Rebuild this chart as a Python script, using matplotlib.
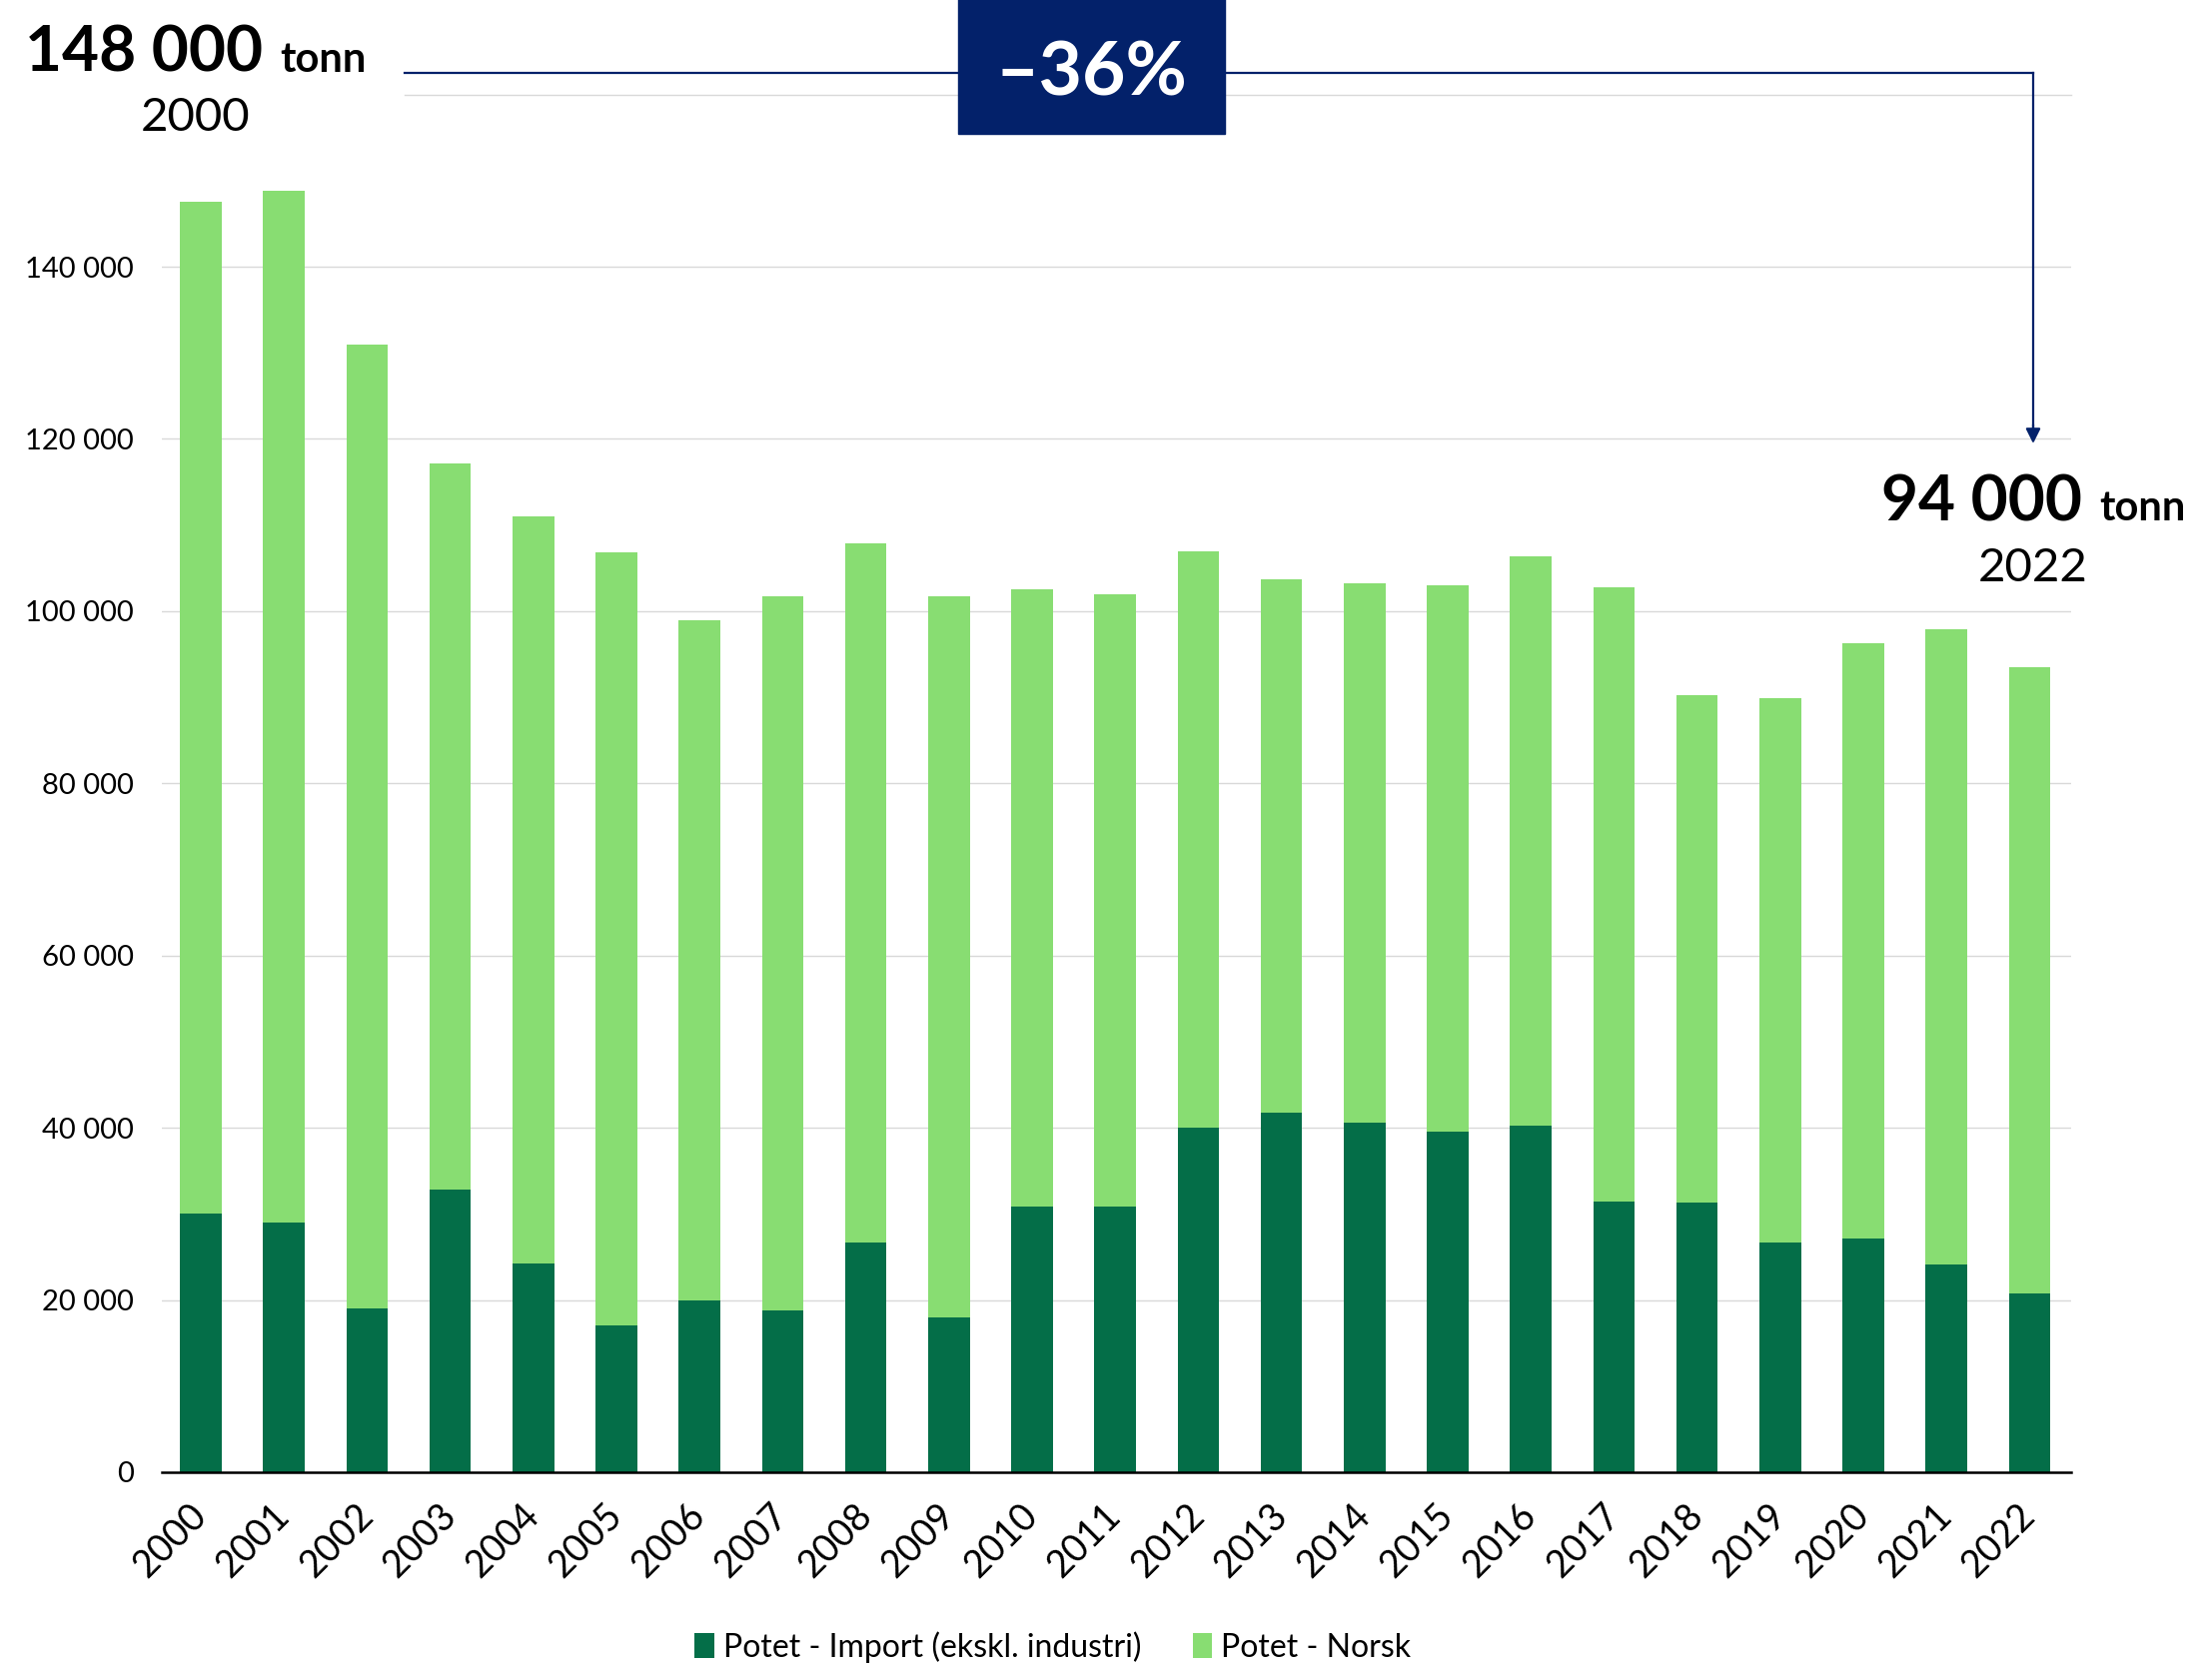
import matplotlib
matplotlib.use('Agg')
import matplotlib.pyplot as plt
from matplotlib.patches import Rectangle
from matplotlib.lines import Line2D
from matplotlib.ticker import FuncFormatter

years = [str(y) for y in range(2000, 2023)]
import_t = [30000, 29000, 19000, 32800, 24200, 17000, 20000, 18800, 26700, 18000,
            30800, 30900, 40000, 41800, 40600, 39500, 40300, 31400, 31300, 26700,
            27200, 24100, 20800]
norsk_t = [117500, 119800, 112000, 84400, 86800, 89800, 78900, 82900, 81200, 83700,
           71700, 71100, 66900, 61900, 62600, 63500, 66100, 71400, 58900, 63200,
           69100, 73800, 72700]
series_names = ["Potet - Import (ekskl. industri)", "Potet - Norsk"]
yticks = list(range(0, 140001, 20000))

DARK = "#046E48"
LIGHT = "#88DD72"
NAVY = "#03216A"

plt.rcParams['font.family'] = ['Lato', 'DejaVu Sans']

W, H = 2214, 1668
fig = plt.figure(figsize=(W / 100, H / 100), dpi=100)
fx = lambda x: x / W
fy = lambda y: 1 - y / H

ax = fig.add_axes([fx(162), fy(1474), fx(2073) - fx(162), fy(94.6) - fy(1474)])
x = list(range(len(years)))
ax.bar(x, import_t, width=0.5, color=DARK, label=series_names[0], zorder=3)
ax.bar(x, norsk_t, width=0.5, bottom=import_t, color=LIGHT, label=series_names[1], zorder=3)

ax.set_xlim(-0.47, 22.5)
ax.set_ylim(0, 160000)
ax.set_yticks(yticks)
ax.yaxis.set_major_formatter(FuncFormatter(lambda v, p: f"{int(v):,}".replace(",", " ")))
for v in yticks[1:]:
    ax.axhline(v, color="#D9D9D9", lw=1.0, zorder=1)
ax.axhline(160000, xmin=0.127, color="#D9D9D9", lw=1.0, zorder=1, clip_on=False)

for s in ['top', 'right', 'left']:
    ax.spines[s].set_visible(False)
ax.spines['bottom'].set_linewidth(1.8)
ax.spines['bottom'].set_zorder(4)
ax.tick_params(axis='y', length=0, pad=20, labelsize=21)
ax.tick_params(axis='x', length=0, pad=27)
ax.set_xticks(x)
ax.set_xticklabels(years, rotation=45, ha='right', va='center', rotation_mode='anchor', fontsize=27)

# Legend
leg = fig.legend(loc='center', bbox_to_anchor=(fx(1054), fy(1649)), ncol=2, frameon=False,
                 fontsize=23, handlelength=0.6, handleheight=0.8, handletextpad=0.3,
                 columnspacing=1.6)

# Annotations
fig.text(fx(263), fy(72), "148 000", ha='right', va='baseline', fontsize=46, fontweight='bold')
fig.text(fx(280), fy(72), "tonn", ha='left', va='baseline', fontsize=30, fontweight='bold')
fig.text(fx(196), fy(131), "2000", ha='center', va='baseline', fontsize=34)

fig.text(fx(2084), fy(521), "94 000", ha='right', va='baseline', fontsize=46, fontweight='bold')
fig.text(fx(2101), fy(521), "tonn", ha='left', va='baseline', fontsize=30, fontweight='bold')
fig.text(fx(2035), fy(582), "2022", ha='center', va='baseline', fontsize=34)

fig.add_artist(Line2D([fx(405), fx(2035)], [fy(73), fy(73)], color=NAVY, lw=1.6,
                      transform=fig.transFigure))
fig.add_artist(Line2D([fx(2035), fx(2035)], [fy(73), fy(430)], color=NAVY, lw=1.6,
                      transform=fig.transFigure))
ax.annotate("", xy=(fx(2035), fy(444)), xytext=(fx(2035), fy(425)),
            xycoords='figure fraction', textcoords='figure fraction',
            arrowprops=dict(arrowstyle='-|>', mutation_scale=22, lw=1.6, color=NAVY,
                            shrinkA=0, shrinkB=0))

fig.add_artist(Rectangle((fx(959), fy(134)), fx(1226) - fx(959), 134 / H + 0.01,
                         transform=fig.transFigure, color=NAVY, zorder=5))
fig.text(fx(1092), fy(96), "–36%", ha='center', va='baseline', fontsize=54,
         fontweight='bold', color='white', zorder=6)

fig.savefig("out.png", dpi=100)
